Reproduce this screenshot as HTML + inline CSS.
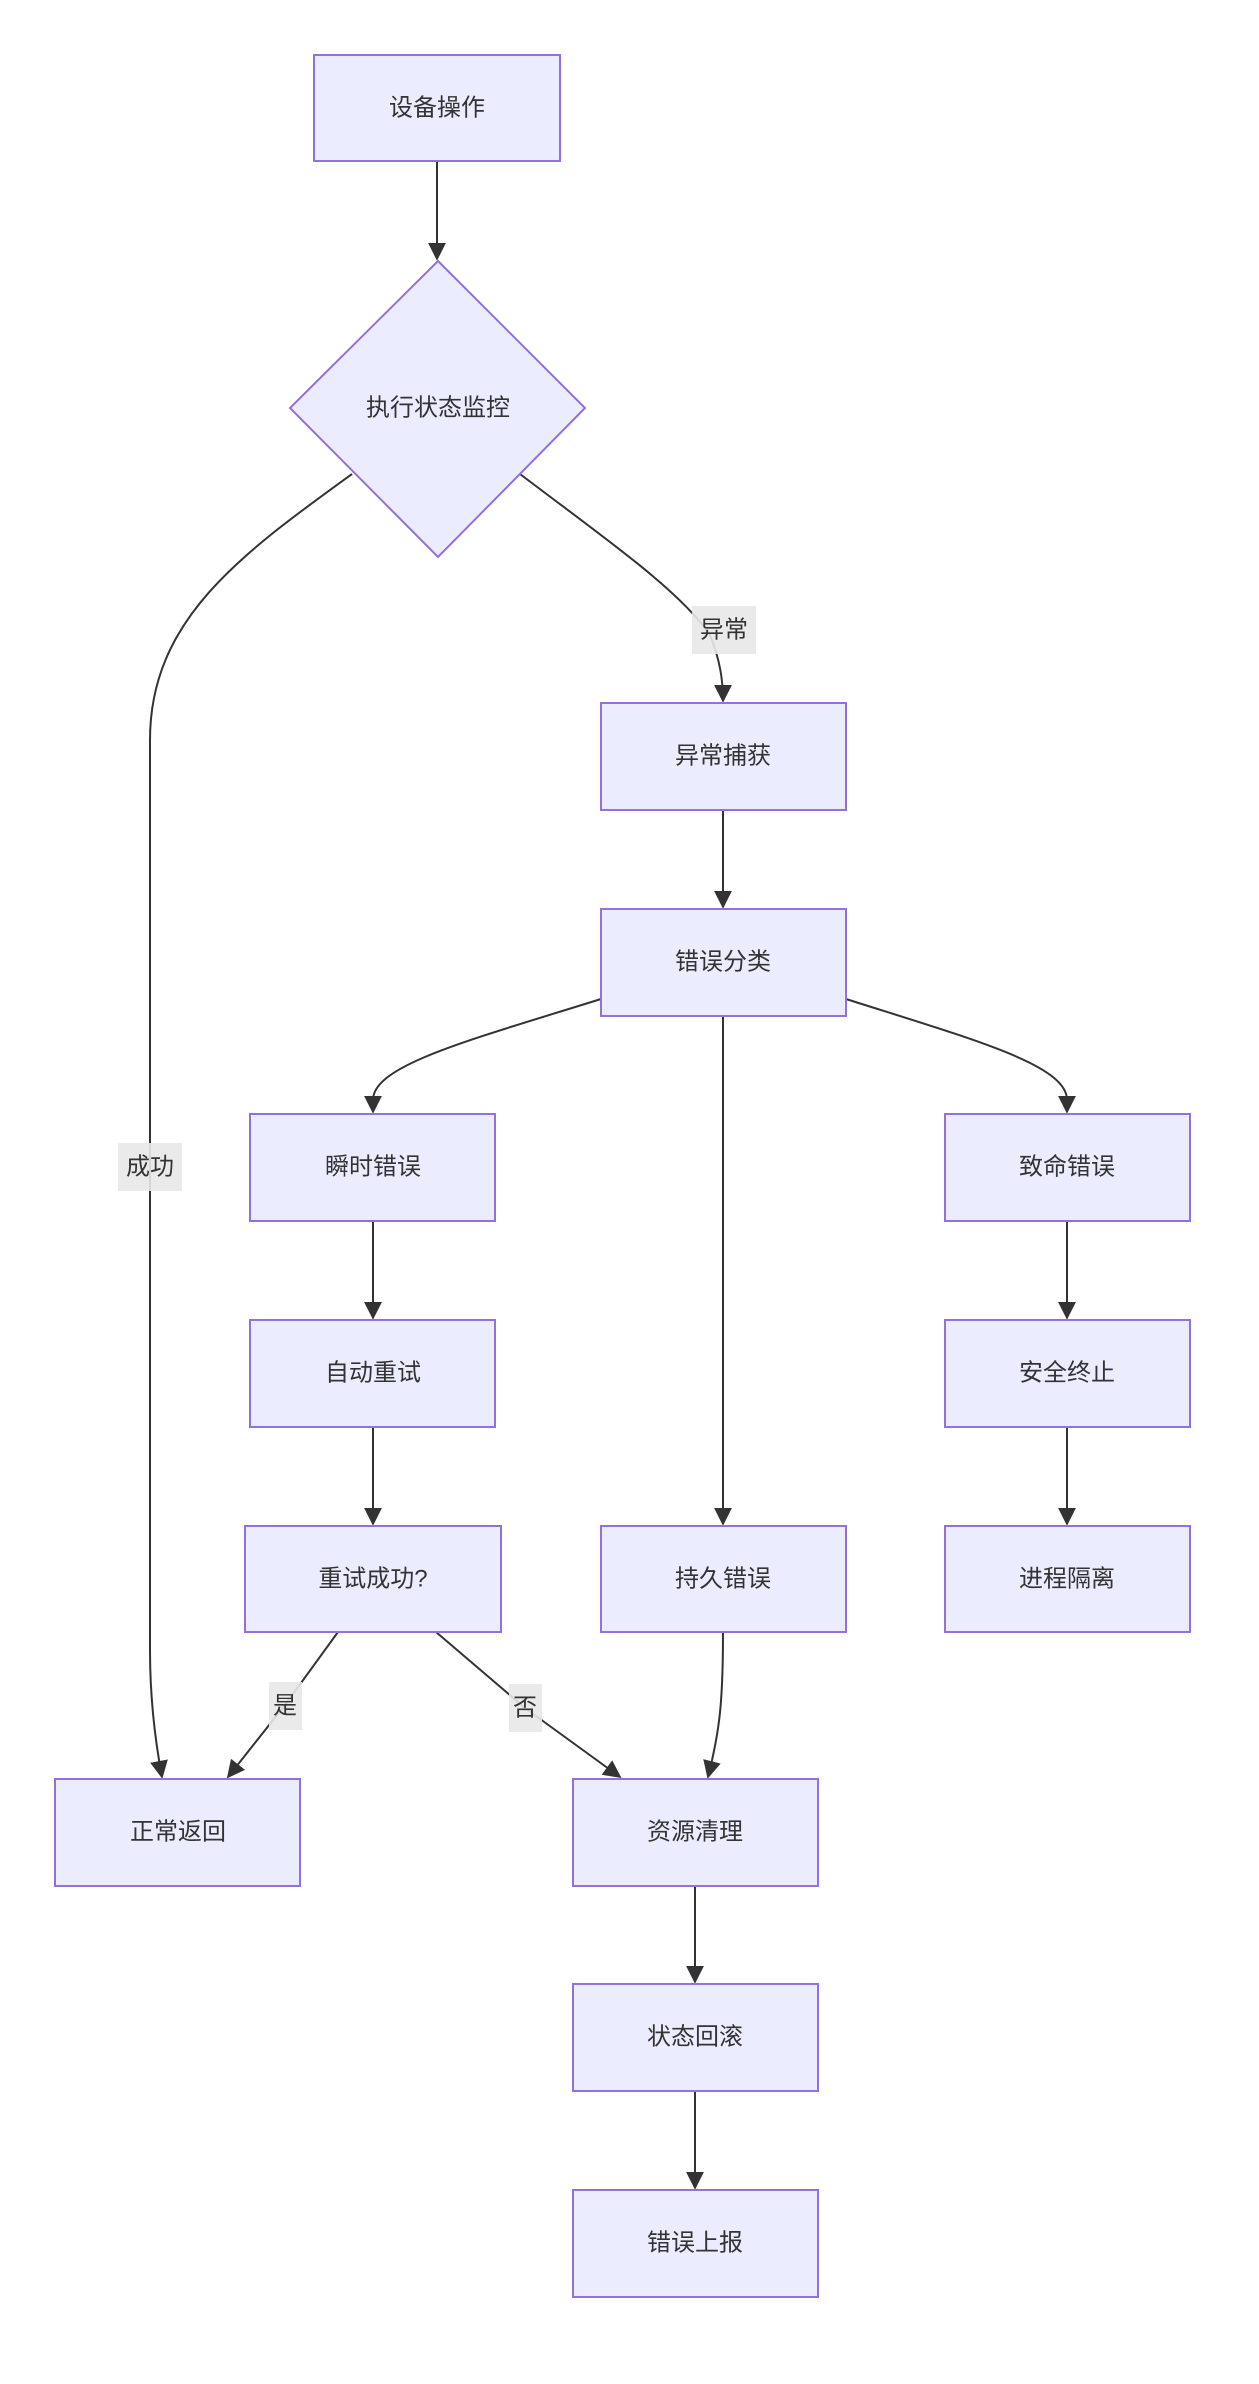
<!DOCTYPE html>
<html><head><meta charset="utf-8"><style>
html,body{margin:0;padding:0;background:#fff;}
svg text{font-family:"Liberation Sans","Noto Sans CJK SC",sans-serif;font-size:24px;fill:#333;}
</style></head><body>
<svg width="1259" height="2379" viewBox="0 0 1259 2379" xmlns="http://www.w3.org/2000/svg">
<defs><marker id="a" viewBox="0 0 10 10" refX="9" refY="5" markerWidth="9" markerHeight="9" markerUnits="userSpaceOnUse" orient="auto"><path d="M0,0L10,5L0,10z" fill="#333"/></marker>
<marker id="b" viewBox="0 0 10 10" refX="9" refY="5" markerWidth="18" markerHeight="18" markerUnits="userSpaceOnUse" orient="auto"><path d="M0,0L10,5L0,10z" fill="#333"/></marker></defs>
<g fill="none" stroke="#333" stroke-width="2">
<path d="M437,161 L437,259" marker-end="url(#b)"/>
<path d="M352,474 C240,555 150,620 150,740 L150,1650 C150,1700 155,1740 162,1777" marker-end="url(#b)"/>
<path d="M520,474 C600,535 680,590 710,635 C720,660 723,680 723,701" marker-end="url(#b)"/>
<path d="M723,810 L723,907" marker-end="url(#b)"/>
<path d="M601,999 C470,1040 373,1065 373,1100 L373,1112" marker-end="url(#b)"/>
<path d="M846,999 C975,1040 1067,1065 1067,1100 L1067,1112" marker-end="url(#b)"/>
<path d="M723,1016 L723,1524" marker-end="url(#b)"/>
<path d="M373,1221 L373,1318" marker-end="url(#b)"/>
<path d="M373,1427 L373,1524" marker-end="url(#b)"/>
<path d="M1067,1221 L1067,1318" marker-end="url(#b)"/>
<path d="M1067,1427 L1067,1524" marker-end="url(#b)"/>
<path d="M338,1632 L285,1705 L228,1777" marker-end="url(#b)"/>
<path d="M436,1632 L525,1708 L620,1777" marker-end="url(#b)"/>
<path d="M723,1632 C723,1700 720,1730 708,1777" marker-end="url(#b)"/>
<path d="M695,1886 L695,1982" marker-end="url(#b)"/>
<path d="M695,2091 L695,2188" marker-end="url(#b)"/>
</g>
<g fill="#ececff" stroke="#9370db" stroke-width="2">
<rect x="314" y="55" width="246" height="106"/>
<polygon points="438,261 585,408 438,557 290,408"/>
<rect x="601" y="703" width="245" height="107"/>
<rect x="601" y="909" width="245" height="107"/>
<rect x="250" y="1114" width="245" height="107"/>
<rect x="945" y="1114" width="245" height="107"/>
<rect x="250" y="1320" width="245" height="107"/>
<rect x="945" y="1320" width="245" height="107"/>
<rect x="245" y="1526" width="256" height="106"/>
<rect x="601" y="1526" width="245" height="106"/>
<rect x="945" y="1526" width="245" height="106"/>
<rect x="55" y="1779" width="245" height="107"/>
<rect x="573" y="1779" width="245" height="107"/>
<rect x="573" y="1984" width="245" height="107"/>
<rect x="573" y="2190" width="245" height="107"/>
</g>
<g fill="#e8e8e8" opacity="0.9">
<rect x="692" y="606" width="64" height="48"/>
<rect x="118" y="1143" width="64" height="48"/>
<rect x="269" y="1682" width="33" height="48"/>
<rect x="509" y="1684" width="33" height="48"/>
</g>
<g text-anchor="middle" dominant-baseline="central">
<text x="437" y="108">设备操作</text>
<text x="438" y="408">执行状态监控</text>
<text x="723" y="756">异常捕获</text>
<text x="723" y="962">错误分类</text>
<text x="373" y="1167">瞬时错误</text>
<text x="1067" y="1167">致命错误</text>
<text x="373" y="1373">自动重试</text>
<text x="1067" y="1373">安全终止</text>
<text x="373" y="1579">重试成功?</text>
<text x="723" y="1579">持久错误</text>
<text x="1067" y="1579">进程隔离</text>
<text x="178" y="1832">正常返回</text>
<text x="695" y="1832">资源清理</text>
<text x="695" y="2037">状态回滚</text>
<text x="695" y="2243">错误上报</text>
<text x="724" y="630">异常</text>
<text x="150" y="1167">成功</text>
<text x="285" y="1706">是</text>
<text x="525" y="1708">否</text>
</g>
</svg>
</body></html>
